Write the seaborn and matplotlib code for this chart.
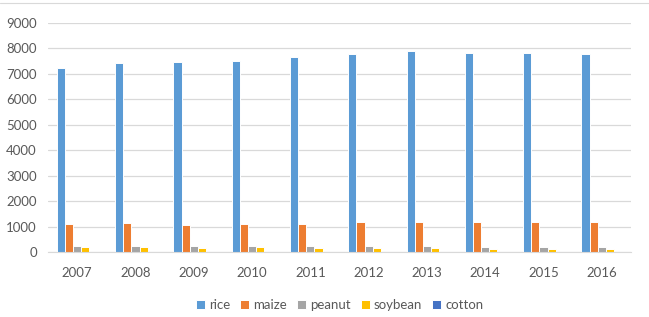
import pandas as pd
import matplotlib.pyplot as plt
import seaborn as sns
from matplotlib.lines import Line2D

# data
years = ['2007', '2008', '2009', '2010', '2011', '2012', '2013', '2014', '2015', '2016']
rice = [7225, 7420, 7450, 7500, 7670, 7780, 7910, 7830, 7840, 7790]
maize = [1100, 1150, 1080, 1120, 1110, 1170, 1170, 1190, 1170, 1170]
peanut = [240, 240, 240, 230, 220, 230, 230, 210, 200, 200]
soybean = [190, 190, 150, 190, 170, 140, 140, 110, 100, 100]
cotton = [0, 0, 0, 0, 0, 0, 0, 0, 0, 0]

crops = ['rice', 'maize', 'peanut', 'soybean', 'cotton']
colors = ['#5B9BD5', '#ED7D31', '#A5A5A5', '#FFC000', '#4472C4']

d = pd.DataFrame({'year': years, 'rice': rice, 'maize': maize,
                  'peanut': peanut, 'soybean': soybean, 'cotton': cotton})
d_long = d.melt(id_vars='year', value_vars=crops, var_name='crop', value_name='value')

sns.set_style('white')
plt.rcParams['font.family'] = ['Lato', 'DejaVu Sans']

fig = plt.figure(figsize=(6.49, 3.17), dpi=100)
ax = fig.add_axes([48/649, 1 - 252/317, (631 - 48)/649, (252 - 23)/317])

sns.barplot(data=d_long, x='year', y='value', hue='crop',
            hue_order=crops, palette=colors, width=0.7,
            edgecolor='white', linewidth=0.7, saturation=1, ax=ax)

ax.set_ylim(0, 9000)
ax.set_yticks(range(0, 9001, 1000))
ax.yaxis.grid(True, color='#D9D9D9', linewidth=0.9)
ax.set_axisbelow(True)
for s in ['left', 'right', 'top']:
    ax.spines[s].set_visible(False)
ax.spines['bottom'].set_color('#D9D9D9')
ax.tick_params(axis='both', length=0, labelsize=9.5, colors='#595959')
ax.tick_params(axis='x', pad=11)
ax.tick_params(axis='y', pad=8)
ax.set_xlabel('')
ax.set_ylabel('')

leg = ax.legend(loc='upper center', bbox_to_anchor=(0.5, -0.155), ncol=5,
                frameon=False, fontsize=9.5, handlelength=0.7, handleheight=0.7,
                handletextpad=0.3, columnspacing=0.75)
for t in leg.get_texts():
    t.set_color('#595959')

# chart frame top line
fig.add_artist(Line2D([0, 1], [1 - 3/317, 1 - 3/317], color='#D9D9D9', linewidth=0.8))

plt.savefig('out.png', dpi=100)
